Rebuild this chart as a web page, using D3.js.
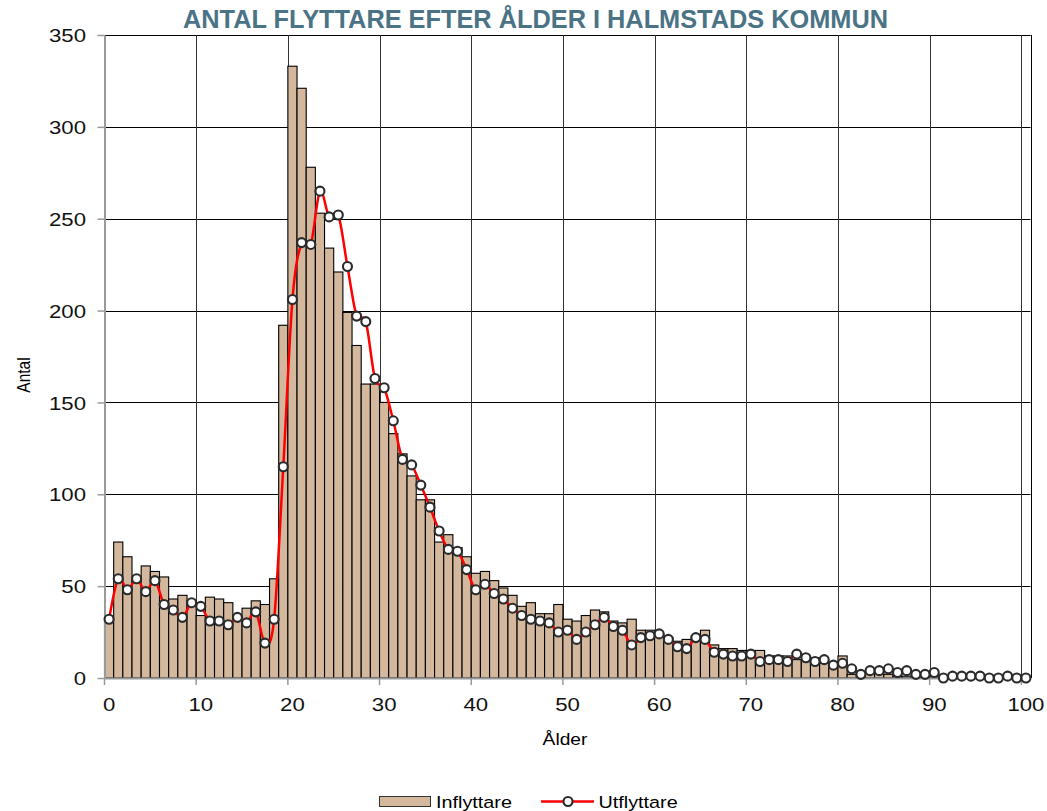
<!DOCTYPE html>
<html>
<head>
<meta charset="utf-8">
<script src="https://cdn.jsdelivr.net/npm/d3@7"></script>
<style>
  html, body { margin: 0; padding: 0; background: #fff; }
  svg { display: block; }
  text { font-family: "Liberation Sans", Arial, sans-serif; fill: #000; }
</style>
</head>
<body>
<svg id="chart" width="1047" height="811"></svg>
<script>
const ages = d3.range(0, 101);
const inflyttare = [
  33, 74, 66, 53, 61, 58, 55, 43, 45, 42,
  34, 44, 43, 41, 34, 38, 42, 40, 54, 192,
  333, 321, 278, 253, 234, 221, 199, 181, 160, 160,
  150, 133, 122, 110, 97, 97, 74, 78, 71, 66,
  57, 58, 53, 49, 45, 39, 41, 35, 35, 40,
  32, 31, 34, 37, 36, 31, 30, 32, 26, 26,
  24, 22, 20, 21, 23, 26, 18, 16, 16, 15,
  15, 15, 12, 12, 12, 10, 10, 11, 8, 9,
  12, 2, 2, 3, 3, 2, 1, 1, 1, 1,
  1, 0, 0, 0, 0, 0, 0, 0, 0, 0,
  0
];
const utflyttare = [
  32, 54, 48, 54, 47, 53, 40, 37, 33, 41,
  39, 31, 31, 29, 33, 30, 36, 19, 32, 115,
  206, 237, 236, 265, 251, 252, 224, 197, 194, 163,
  158, 140, 119, 116, 105, 93, 80, 70, 69, 59,
  48, 51, 46, 43, 38, 34, 32, 31, 30, 25,
  26, 21, 25, 29, 33, 28, 26, 18, 22, 23,
  24, 21, 17, 16, 22, 21, 14, 13, 12, 12,
  13, 9, 10, 10, 9, 13, 11, 9, 10, 7,
  8, 5, 2, 4, 4, 5, 3, 4, 2, 2,
  3, 0, 1, 1, 1, 1, 0, 0, 1, 0,
  0
];
const yTicks = [0, 50, 100, 150, 200, 250, 300, 350];
const xTicks = [0, 10, 20, 30, 40, 50, 60, 70, 80, 90, 100];
const seriesNames = ["Inflyttare", "Utflyttare"];
const titleText = "ANTAL FLYTTARE EFTER ÅLDER I HALMSTADS KOMMUN";
const xTitle = "Ålder";
const yTitle = "Antal";

const barColor = "#d3b89e";
const lineColor = "#ff0000";
const SX = 1.2; // horizontal stretch of the text as in the reference

const svg = d3.select("#chart");
const L = 104.5, R = 1030.5, T = 35, B = 678;

const x = d3.scaleBand().domain(ages).range([L, R]).padding(0);
const y = d3.scaleLinear().domain([0, 350]).range([B, T]);
const bw = x.bandwidth();

// title
svg.append("text")
  .attr("x", 183).attr("y", 28)
  .attr("textLength", 705).attr("lengthAdjust", "spacingAndGlyphs")
  .style("font-size", "26px").style("font-weight", "bold")
  .style("fill", "#4a7386")
  .text(titleText);

// horizontal gridlines
svg.append("g").selectAll("line").data(yTicks.filter(d => d > 0)).join("line")
  .attr("x1", L).attr("x2", R)
  .attr("y1", d => Math.round(y(d)) + 0.5).attr("y2", d => Math.round(y(d)) + 0.5)
  .attr("stroke", "#000").attr("stroke-width", 1);

// vertical gridlines at category boundaries
svg.append("g").selectAll("line").data(xTicks.filter(d => d > 0)).join("line")
  .attr("x1", d => Math.round(x(d)) + 0.5).attr("x2", d => Math.round(x(d)) + 0.5)
  .attr("y1", T).attr("y2", B)
  .attr("stroke", "#333").attr("stroke-width", 1);
svg.append("line")
  .attr("x1", Math.round(R) + 0.5).attr("x2", Math.round(R) + 0.5)
  .attr("y1", T).attr("y2", B)
  .attr("stroke", "#000").attr("stroke-width", 1);

// bars
svg.append("g").selectAll("rect").data(ages).join("rect")
  .attr("x", d => x(d))
  .attr("y", (d, i) => y(inflyttare[i]))
  .attr("width", bw)
  .attr("height", (d, i) => B - y(inflyttare[i]))
  .attr("fill", barColor)
  .attr("stroke", "#000").attr("stroke-width", 1.1);

// axes
const yAxis = svg.append("g")
  .attr("transform", `translate(${L},0)`)
  .call(d3.axisLeft(y).tickValues(yTicks).tickSize(7).tickSizeOuter(0));
yAxis.select(".domain").attr("stroke", "#9a9a9a").attr("stroke-width", 2);
yAxis.selectAll(".tick line").attr("stroke", "#9a9a9a").attr("stroke-width", 1.5);
yAxis.selectAll(".tick text")
  .attr("x", -18.5 / SX).attr("dy", "0.36em")
  .attr("transform", `scale(${SX},1)`)
  .style("font-size", "18.5px").style("font-weight", "normal").style("fill", "#111");

const xAxis = svg.append("g")
  .attr("transform", `translate(0,${B})`)
  .call(d3.axisBottom(x).tickValues(xTicks).tickSize(7).tickSizeOuter(0));
xAxis.select(".domain").attr("stroke", "#9a9a9a").attr("stroke-width", 2);
xAxis.selectAll(".tick line")
  .attr("x1", -bw / 2).attr("x2", -bw / 2)
  .attr("stroke", "#9a9a9a").attr("stroke-width", 1.5);
xAxis.selectAll(".tick text")
  .attr("y", 33).attr("dy", 0)
  .attr("transform", `scale(${SX},1)`)
  .style("font-size", "18.5px").style("font-weight", "normal").style("fill", "#111");

// axis titles
svg.append("text")
  .attr("transform", `translate(565,745) scale(${SX},1)`)
  .attr("text-anchor", "middle")
  .style("font-size", "16px")
  .text(xTitle);
svg.append("text")
  .attr("transform", `translate(30,375) rotate(-90) scale(1,${SX})`)
  .attr("text-anchor", "middle")
  .style("font-size", "15.5px")
  .text(yTitle);

// line
const cx = d => x(d) + bw / 2;
const line = d3.line()
  .x((d, i) => cx(ages[i]))
  .y(d => y(d))
  .curve(d3.curveCatmullRom.alpha(0));
svg.append("path")
  .datum(utflyttare)
  .attr("d", line)
  .attr("fill", "none")
  .attr("stroke", lineColor).attr("stroke-width", 2.5);

svg.append("g").selectAll("circle").data(utflyttare).join("circle")
  .attr("cx", (d, i) => cx(ages[i]))
  .attr("cy", d => y(d))
  .attr("r", 4.5)
  .attr("fill", "#fff")
  .attr("stroke", "#2b2b2b").attr("stroke-width", 2.1);

// legend
const lg = svg.append("g");
lg.append("rect").attr("x", 379.5).attr("y", 796.5).attr("width", 51).attr("height", 10)
  .attr("fill", barColor).attr("stroke", "#333").attr("stroke-width", 1);
lg.append("text")
  .attr("transform", `translate(436,807.5) scale(${SX},1)`)
  .style("font-size", "16.5px")
  .text(seriesNames[0]);
lg.append("line").attr("x1", 541).attr("x2", 594).attr("y1", 801.5).attr("y2", 801.5)
  .attr("stroke", lineColor).attr("stroke-width", 2.5);
lg.append("circle").attr("cx", 568).attr("cy", 801.5).attr("r", 4.5)
  .attr("fill", "#fff").attr("stroke", "#2b2b2b").attr("stroke-width", 2.1);
lg.append("text")
  .attr("transform", `translate(598.5,807.5) scale(${SX},1)`)
  .style("font-size", "16.5px")
  .text(seriesNames[1]);
</script>
</body>
</html>
